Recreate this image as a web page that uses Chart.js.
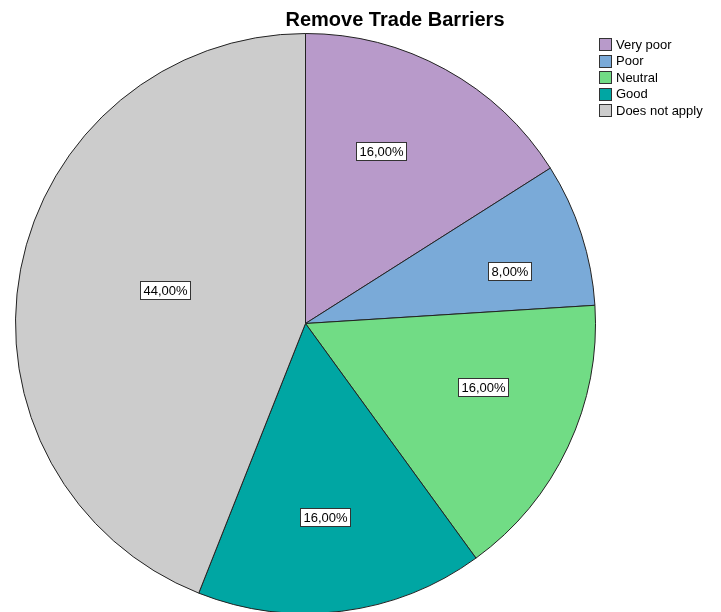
<!DOCTYPE html>
<html>
<head>
<meta charset="utf-8">
<title>Remove Trade Barriers</title>
<script src="https://cdn.jsdelivr.net/npm/chart.js@4.4.1/dist/chart.umd.min.js"></script>
<style>
    html, body { margin: 0; padding: 0; background: #ffffff; overflow: hidden; }
    #pie-canvas { display: block; }
</style>
</head>
<body>
<canvas id="pie-canvas" width="721" height="650"></canvas>
<script>
// answers to "Remove Trade Barriers", in percent
const categories = ['Very poor', 'Poor', 'Neutral', 'Good', 'Does not apply'];
const percentages = [16, 8, 16, 16, 44];
const slice_colors = ['#b89aca', '#7aaad8', '#71dc85', '#00a6a3', '#cccccc'];
const chart_title = 'Remove Trade Barriers';

const FONT = '"Liberation Sans", Arial, sans-serif';

// title, legend and boxed percentage labels
const spssPlugin = {
    id: 'spssPlugin',
    afterDatasetsDraw: (chart, args, opts) => {
        const ctx = chart.ctx;
        const arcs = chart.getDatasetMeta(0).data;
        const nudge = opts.labelNudge || [];

        ctx.save();
        ctx.font = '13px ' + FONT;
        ctx.textAlign = 'center';
        ctx.textBaseline = 'middle';
        arcs.forEach((arc, i) => {
            const half = (arc.endAngle - arc.startAngle) / 2;
            const mid = arc.startAngle + half;
            // start from the centroid of the slice, then shift a little
            const dist = 2 * arc.outerRadius * Math.sin(half) / (3 * half);
            const [dx, dy] = nudge[i] || [0, 0];
            const x = arc.x + Math.cos(mid) * dist + dx;
            const y = arc.y + Math.sin(mid) * dist + dy;
            const text = percentages[i].toFixed(2).replace('.', ',') + '%';
            const w = Math.round(ctx.measureText(text).width) + 6;
            const h = 18;
            const bx = Math.round(x - w / 2) + 0.5;
            const by = Math.round(y - h / 2) + 0.5;
            ctx.fillStyle = '#ffffff';
            ctx.fillRect(bx, by, w, h);
            ctx.strokeStyle = '#333333';
            ctx.lineWidth = 1;
            ctx.strokeRect(bx, by, w, h);
            ctx.fillStyle = '#000000';
            ctx.fillText(text, bx + w / 2, by + h / 2 + 0.5);
        });
        ctx.restore();
    },
    afterDraw: (chart) => {
        const ctx = chart.ctx;
        ctx.save();

        ctx.font = 'bold 20px ' + FONT;
        ctx.fillStyle = '#000000';
        ctx.textAlign = 'center';
        ctx.textBaseline = 'alphabetic';
        ctx.fillText(chart_title, 395, 26);

        ctx.font = '13px ' + FONT;
        ctx.textAlign = 'left';
        ctx.textBaseline = 'middle';
        categories.forEach((label, i) => {
            const cy = 44 + i * 16.5;
            ctx.fillStyle = slice_colors[i];
            ctx.fillRect(599.5, Math.round(cy - 6) + 0.5, 12, 12);
            ctx.strokeStyle = '#333333';
            ctx.lineWidth = 1;
            ctx.strokeRect(599.5, Math.round(cy - 6) + 0.5, 12, 12);
            ctx.fillStyle = '#000000';
            ctx.fillText(label, 616, cy + 1);
        });
        ctx.restore();
    }
};

const ctx = document.getElementById('pie-canvas').getContext('2d');

const pie_chart = new Chart(ctx, {
    type: 'pie',
    data: {
        labels: categories,
        datasets: [{
            data: percentages,
            backgroundColor: slice_colors,
            borderColor: '#222222',
            borderWidth: 1,
            hoverOffset: 0
        }]
    },
    options: {
        responsive: false,
        animation: false,
        events: [],
        layout: {
            padding: { left: 15, top: 33, right: 125, bottom: 36 }
        },
        plugins: {
            legend: { display: false },
            title: { display: false },
            tooltip: { enabled: false },
            spssPlugin: {
                labelNudge: [[-14, -10], [22, 7], [10, -15], [-4, 10], [-6, -8]]
            }
        }
    },
    plugins: [spssPlugin]
});
</script>
</body>
</html>
